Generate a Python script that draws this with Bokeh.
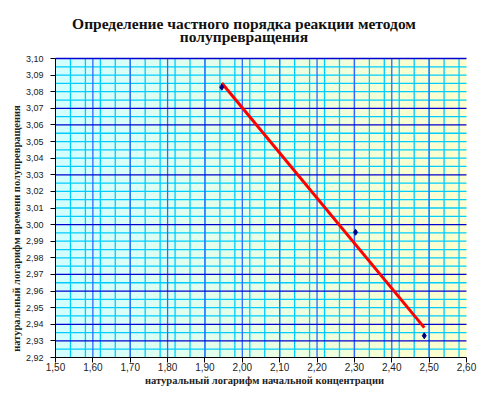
import numpy as np
from bokeh.plotting import figure
from bokeh.models import FixedTicker, Label, Range1d
from bokeh.embed import file_html
from bokeh.resources import INLINE

# ---- data ----
x_vals = [1.945, 2.303, 2.487]          # ln of initial concentration
y_vals = [3.0827, 2.9954, 2.9331]       # ln of half-life time

x_ticks = [1.5, 1.6, 1.7, 1.8, 1.9, 2.0, 2.1, 2.2, 2.3, 2.4, 2.5, 2.6]
x_tick_labels = ["1,50", "1,60", "1,70", "1,80", "1,90", "2,00",
                 "2,10", "2,20", "2,30", "2,40", "2,50", "2,60"]
y_ticks = [2.92, 2.93, 2.94, 2.95, 2.96, 2.97, 2.98, 2.99, 3.0,
           3.01, 3.02, 3.03, 3.04, 3.05, 3.06, 3.07, 3.08, 3.09, 3.1]
y_tick_labels = ["2,92", "2,93", "2,94", "2,95", "2,96", "2,97", "2,98",
                 "2,99", "3,00", "3,01", "3,02", "3,03", "3,04", "3,05",
                 "3,06", "3,07", "3,08", "3,09", "3,10"]

title_lines = ["Определение частного порядка реакции методом",
               "полупревращения"]
x_title = "натуральный логарифм начальной концентрации"
y_title = "натуральный логарифм времени полупревращения"

# axis extents and gridline layout as seen in the reference
x_lo, x_hi = 1.5, 2.6
y_lo, y_hi = 2.92, 3.10
y_grid_major = [3.1, 3.07, 3.06, 3.03, 3.0, 2.97, 2.96, 2.94, 2.93]
x_grid_major = [1.6, 1.7, 1.8, 1.9, 2.0, 2.1, 2.2, 2.3, 2.4, 2.5]

# ---- canvas geometry (pixels) ----
W, H = 480, 392
plot_left, plot_right, plot_top, plot_bottom = 55.0, 466.0, 58.0, 357.0
sx = (x_hi - x_lo) / (plot_right - plot_left)      # data units per px
sy = (y_hi - y_lo) / (plot_bottom - plot_top)


def dx(px):
    return x_lo + (px - plot_left) * sx


def dy(py):
    return y_hi - (py - plot_top) * sy


p = figure(width=W, height=H, output_backend="svg", toolbar_location=None,
           x_range=Range1d(dx(0), dx(W)), y_range=Range1d(dy(H), dy(0)),
           min_border=0, min_border_left=0, min_border_right=0,
           min_border_top=0, min_border_bottom=0)
p.title.text = ""
p.outline_line_color = None
p.background_fill_color = "white"
p.border_fill_color = "white"

# horizontal gradient background (light cyan -> light yellow)
n = 256
t = np.linspace(0, 1, n)
c0 = np.array([210, 255, 255])
c1 = np.array([255, 255, 204])
img = np.zeros((1, n, 4), dtype=np.uint8)
for i in range(3):
    img[0, :, i] = (c0[i] + (c1[i] - c0[i]) * t).astype(np.uint8)
img[0, :, 3] = 255
p.image_rgba(image=[img.view(dtype=np.uint32).reshape((1, n))],
             x=x_lo, y=y_lo, dw=x_hi - x_lo, dh=y_hi - y_lo, level="image")

# grid lines, limited to the plotted area
p.xgrid.visible = False
p.ygrid.visible = False
y_minor = [round(v, 3) for v in np.arange(y_lo, y_hi + 1e-4, 0.005)
           if min(abs(v - m) for m in y_grid_major) > 1e-6 and v > y_lo + 1e-6]
x_minor = [round(v, 3) for v in np.arange(1.54, x_hi, 0.04)]
p.segment(x0=x_minor, y0=y_lo, x1=x_minor, y1=y_hi,
          line_color="#00CCFF", line_width=1.3, level="underlay")
p.segment(x0=x_lo, y0=y_minor, x1=x_hi, y1=y_minor,
          line_color="#00CCFF", line_width=1.3, level="underlay")
p.segment(x0=x_grid_major, y0=y_lo, x1=x_grid_major, y1=y_hi,
          line_color="#3366FF", line_width=1.3, level="underlay")
p.segment(x0=x_lo, y0=y_grid_major, x1=x_hi, y1=y_grid_major,
          line_color="#0000D0", line_width=1.3, level="underlay")

# axes, fixed at the edges of the plotted area
p.xaxis.fixed_location = y_lo
p.yaxis.fixed_location = x_lo
p.xaxis.bounds = (x_lo, x_hi)
p.yaxis.bounds = (y_lo, y_hi)
p.xaxis.ticker = FixedTicker(ticks=x_ticks, minor_ticks=[])
p.yaxis.ticker = FixedTicker(ticks=y_ticks, minor_ticks=[])
p.xaxis.major_label_overrides = dict(zip(x_ticks, x_tick_labels))
p.yaxis.major_label_overrides = dict(zip(y_ticks, y_tick_labels))
for ax in (p.xaxis[0], p.yaxis[0]):
    ax.axis_line_color = "black"
    ax.major_tick_line_color = "black"
    ax.major_tick_out = 5
    ax.major_tick_in = 0
    ax.minor_tick_line_color = None
    ax.major_label_text_font = "Liberation Sans"
    ax.major_label_text_color = "#222222"
p.xaxis.major_label_text_font_size = "10px"
p.yaxis.major_label_text_font_size = "9px"
p.xaxis.major_label_standoff = 0
p.yaxis.major_label_standoff = 7

# linear trendline through the points
slope, intercept = np.polyfit(x_vals, y_vals, 1)
xl = [min(x_vals), max(x_vals)]
yl = [slope * v + intercept for v in xl]
p.line(xl, yl, line_color="#FF0000", line_width=3)

# data points
p.scatter(x_vals, y_vals, marker="diamond", size=6, fill_color="#000080",
          line_color="#000080")

# texts: chart title and axis titles
serif = dict(text_font="Liberation Serif", text_font_style="bold",
             text_align="center", text_baseline="middle")
for line, py in zip(title_lines, [23, 36]):
    p.add_layout(Label(x=dx(243.5), y=dy(py), text=line, text_font_size="15.5px",
                       text_color="#111111", **serif))
p.add_layout(Label(x=dx(264), y=dy(380), text=x_title, text_font_size="10.5px",
                   text_color="#222222", **serif))
p.add_layout(Label(x=dx(16), y=dy(228), text=y_title, angle=np.pi / 2,
                   text_font_size="10.5px", text_color="#222222", **serif))

open("out.html", "w").write(file_html(p, INLINE))
